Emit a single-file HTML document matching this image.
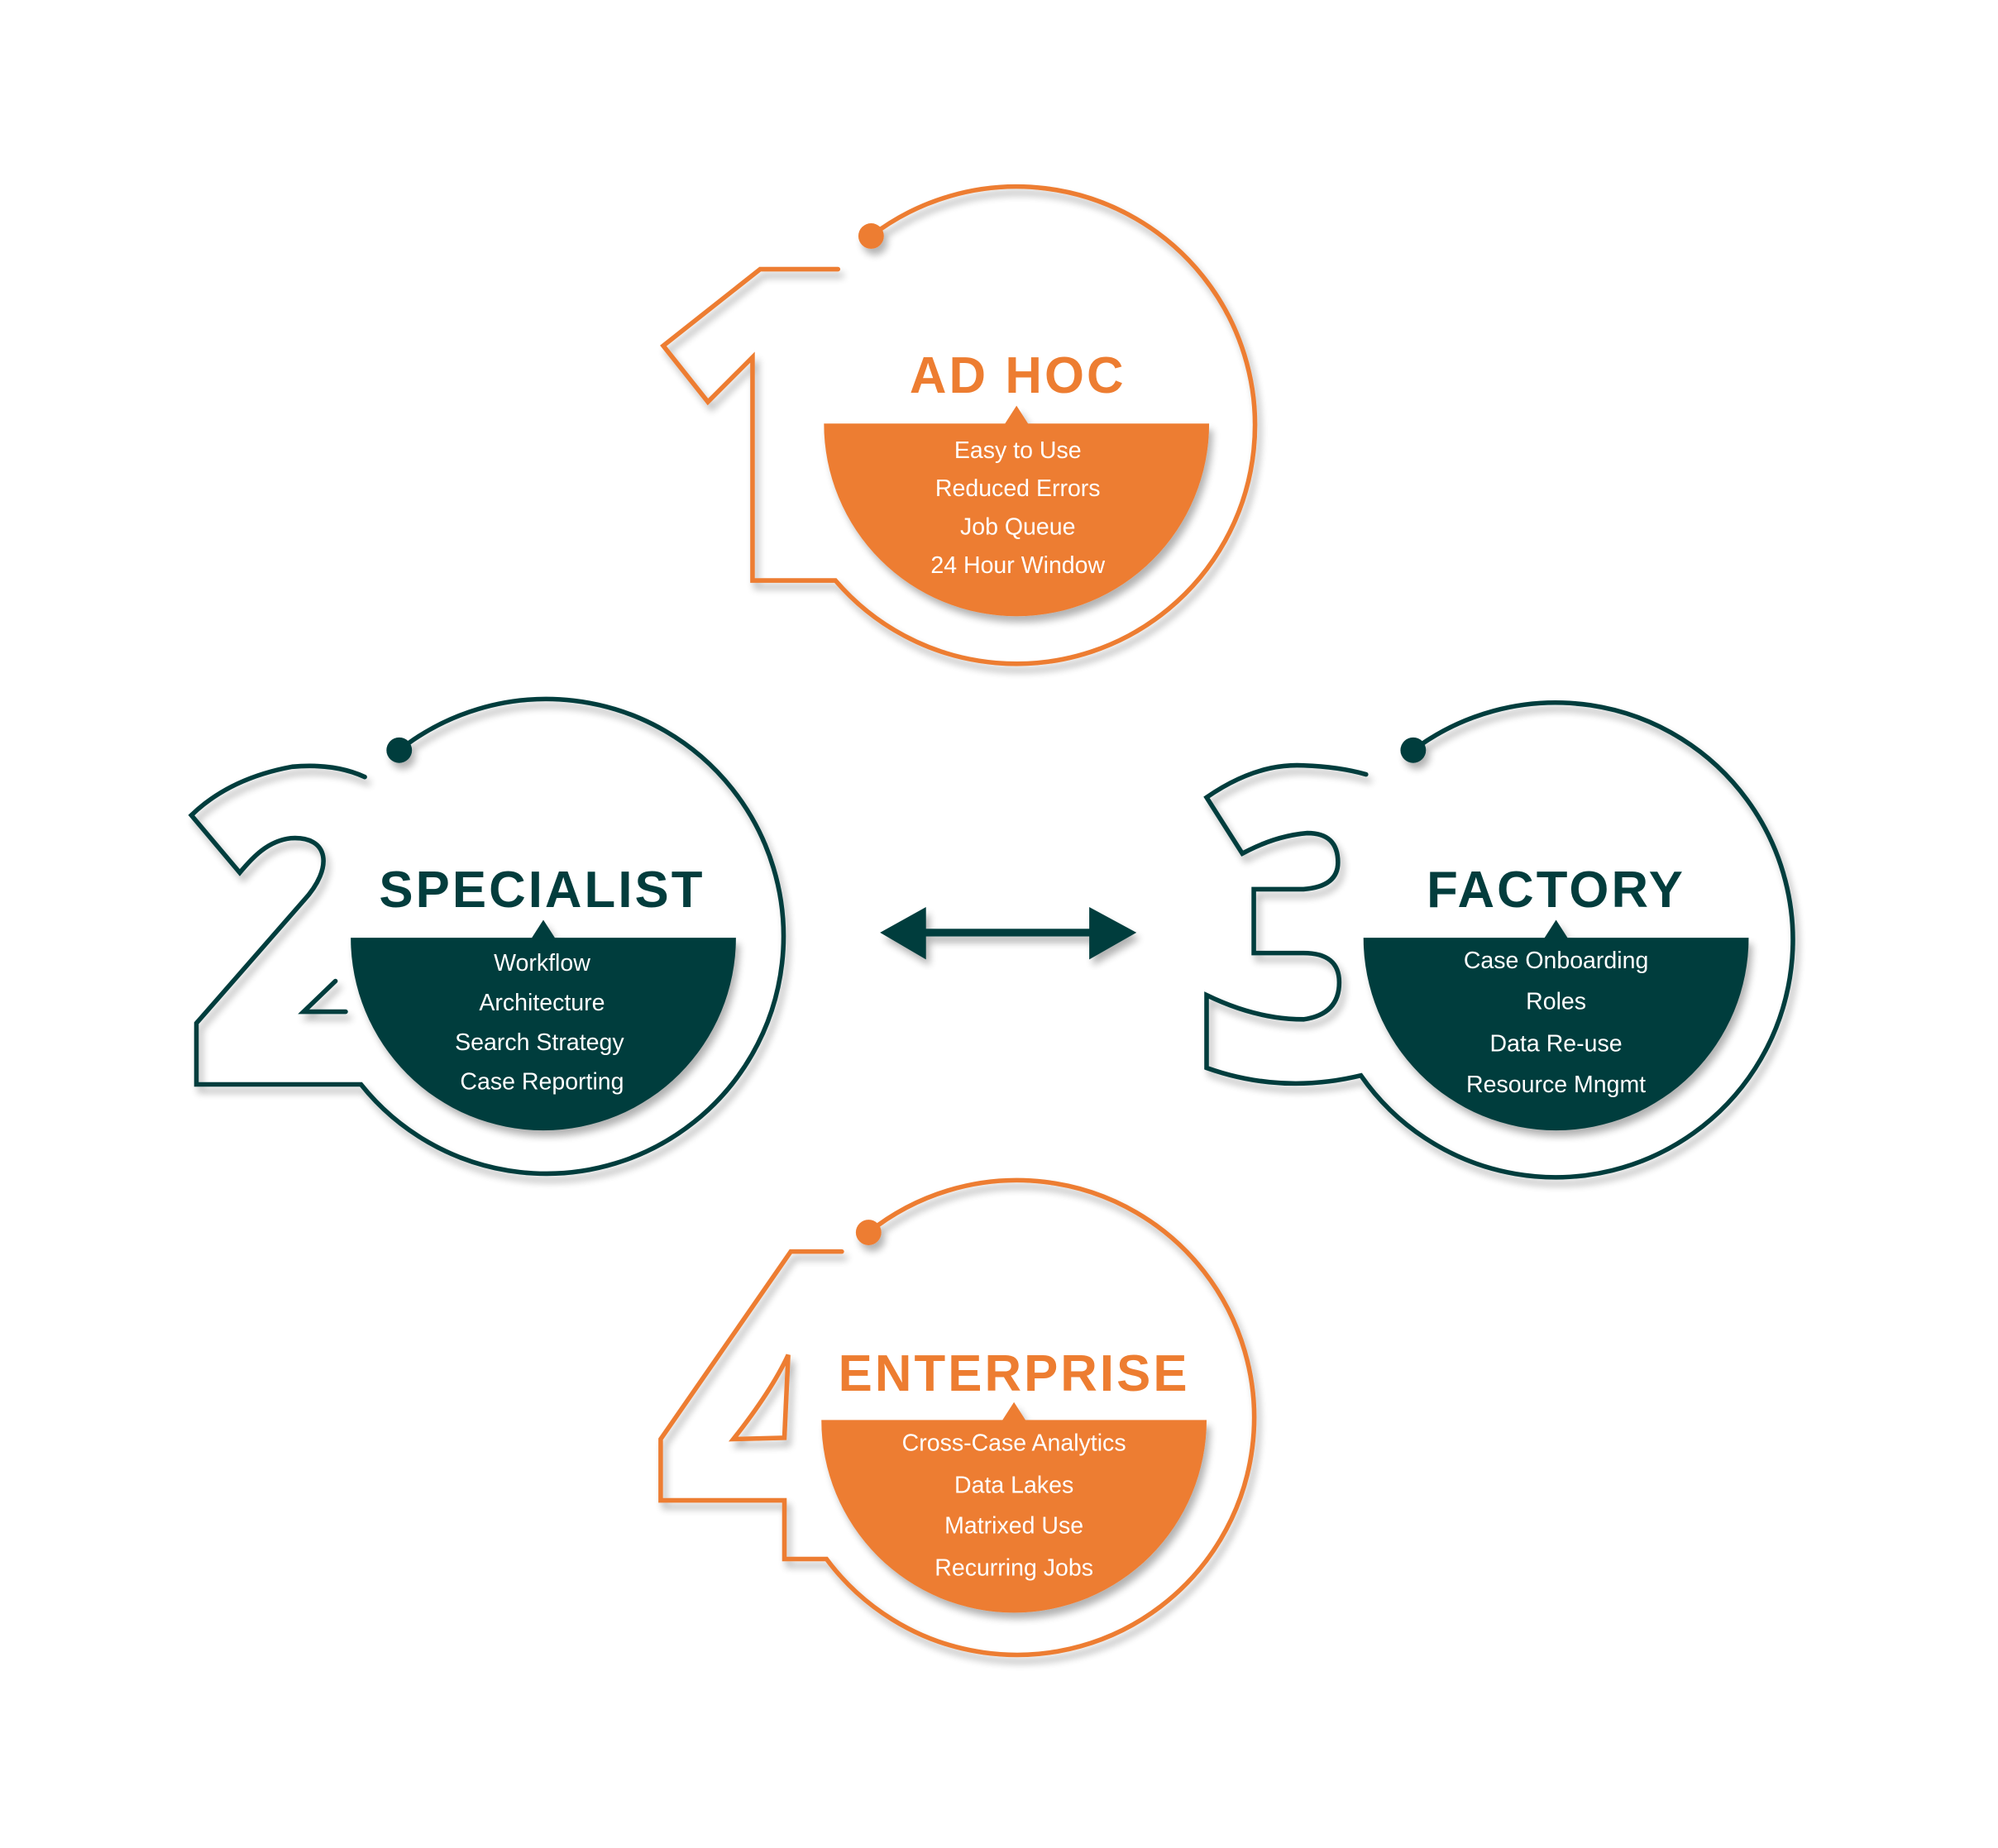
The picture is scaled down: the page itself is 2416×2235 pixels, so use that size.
<!DOCTYPE html>
<html><head><meta charset="utf-8"><style>
html,body{margin:0;padding:0;background:#fff;}
svg{display:block;}
text{font-family:"Liberation Sans",sans-serif;}
.t{font-weight:bold;font-size:40px;letter-spacing:2px;text-anchor:middle;}
.i{font-size:18.5px;fill:#fff;text-anchor:middle;font-family:"Liberation Sans Narrow","Liberation Sans",sans-serif;}
</style></head><body>
<svg width="2416" height="2235" viewBox="0 0 1566.5 1448.5" preserveAspectRatio="none" xmlns="http://www.w3.org/2000/svg">
<defs>
<filter id="sh" x="-20%" y="-20%" width="140%" height="140%">
<feGaussianBlur in="SourceAlpha" stdDeviation="3"/>
<feOffset dx="3" dy="5" result="b"/>
<feComponentTransfer><feFuncA type="linear" slope="0.3"/></feComponentTransfer>
<feMerge><feMergeNode/><feMergeNode in="SourceGraphic"/></feMerge>
</filter>
</defs>

<!-- 1 AD HOC -->
<g filter="url(#sh)">
<path d="M683,185 A187 187 0 1 1 655,455 L590,455 L590,280 L555,315 L520,271 L596,211 L657,211" fill="none" stroke="#ED7D31" stroke-width="3.6" stroke-linecap="round" stroke-linejoin="miter"/>
<circle cx="683" cy="185" r="10" fill="#ED7D31"/>
<path d="M646,332 L788,332 L797,318 L806,332 L948,332 A151 151 0 0 1 646,332 Z" fill="#ED7D31"/>
</g>
<text class="t" x="798" y="308" fill="#ED7D31">AD HOC</text>
<text class="i" x="798" y="359">Easy to Use</text>
<text class="i" x="798" y="389">Reduced Errors</text>
<text class="i" x="798" y="419">Job Queue</text>
<text class="i" x="798" y="449">24 Hour Window</text>

<!-- 2 SPECIALIST -->
<g filter="url(#sh)">
<path d="M313,588 A186 186 0 1 1 283,850 L154,850 L154,802 L238,706 C262,680 258,655 228,657 C210,659 198,672 188,684 L150,639 Q180,610 229,601 Q262,598 286,609" fill="none" stroke="#033D3D" stroke-width="3.6" stroke-linecap="round"/>
<path d="M263,769 L238,793 L271,793" fill="none" stroke="#033D3D" stroke-width="3.6" stroke-linecap="round"/>
<circle cx="313" cy="588" r="10" fill="#033D3D"/>
<path d="M275,735 L417,735 L426,721 L435,735 L577,735 A151 151 0 0 1 275,735 Z" fill="#033D3D"/>
</g>
<text class="t" x="425" y="711" fill="#033D3D">SPECIALIST</text>
<text class="i" x="425" y="761">Workflow</text>
<text class="i" x="425" y="792">Architecture</text>
<text class="i" x="423" y="823">Search Strategy</text>
<text class="i" x="425" y="854">Case Reporting</text>

<!-- 3 FACTORY -->
<g filter="url(#sh)">
<path d="M1108,588 A186 186 0 1 1 1067,843 Q1005,858 946,837 L946,780 Q985,799 1022,799 Q1050,795 1050,770 Q1050,747 1022,747 L983,747 L983,697 L1022,697 Q1049,695 1049,676 Q1049,653 1025,653 Q1000,655 974,669 L946,625 Q985,598 1022,600 Q1050,601 1071,607" fill="none" stroke="#033D3D" stroke-width="3.6" stroke-linecap="round"/>
<circle cx="1108" cy="588" r="10" fill="#033D3D"/>
<path d="M1069,735 L1211,735 L1220,721 L1229,735 L1371,735 A151 151 0 0 1 1069,735 Z" fill="#033D3D"/>
</g>
<text class="t" x="1220" y="711" fill="#033D3D">FACTORY</text>
<text class="i" x="1220" y="759">Case Onboarding</text>
<text class="i" x="1220" y="791">Roles</text>
<text class="i" x="1220" y="824">Data Re-use</text>
<text class="i" x="1220" y="856">Resource Mngmt</text>

<!-- 4 ENTERPRISE -->
<g filter="url(#sh)">
<path d="M681,966 A186 186 0 1 1 648,1222 L615,1222 L615,1176 L518,1176 L518,1128 L620,981 L660,981" fill="none" stroke="#ED7D31" stroke-width="3.6" stroke-linecap="round"/>
<path d="M618,1062 L615,1127 L575,1128 Q605,1090 618,1062 Z" fill="none" stroke="#ED7D31" stroke-width="3.6"/>
<circle cx="681" cy="966" r="10" fill="#ED7D31"/>
<path d="M644,1113 L786,1113 L795,1099 L804,1113 L946,1113 A151 151 0 0 1 644,1113 Z" fill="#ED7D31"/>
</g>
<text class="t" x="795" y="1090" fill="#ED7D31">ENTERPRISE</text>
<text class="i" x="795" y="1137">Cross-Case Analytics</text>
<text class="i" x="795" y="1170">Data Lakes</text>
<text class="i" x="795" y="1202">Matrixed Use</text>
<text class="i" x="795" y="1235">Recurring Jobs</text>

<!-- arrow -->
<g filter="url(#sh)" fill="#033D3D">
<rect x="724" y="728" width="132" height="6"/>
<path d="M690,731 L726,711 L726,752 Z"/>
<path d="M891,731 L854,711 L854,752 Z"/>
</g>
</svg>
</body></html>
